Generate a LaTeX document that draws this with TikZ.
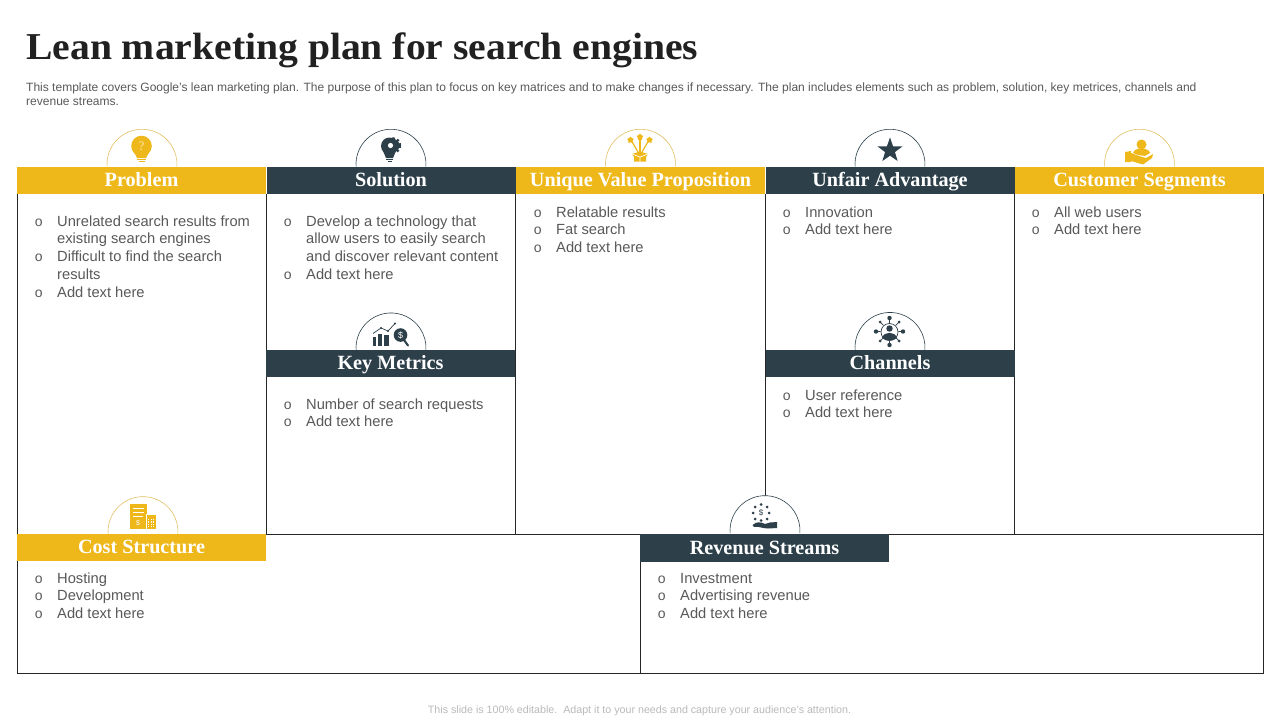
\documentclass[tikz,border=0pt]{standalone}
\usepackage{fontspec}
\setmainfont{Liberation Sans}
\newfontfamily\headfont{Liberation Serif}
\newfontfamily\titlefont{Liberation Serif}[FakeStretch=1.043]
\usetikzlibrary{shapes.geometric}
\definecolor{amber}{HTML}{EFB81A}
\definecolor{slate}{HTML}{2D404A}
\definecolor{bodygray}{HTML}{595959}
\definecolor{amberline}{HTML}{E3C063}
\newcommand{\itm}{\rule{0pt}{12pt}\makebox[0pt][r]{\fontsize{14}{14}\selectfont o\hspace{14.5pt}}}
\newcommand{\hood}[3]{\draw[#1] (#2-34.9,#3+2.4) arc[start angle=176, end angle=364, radius=35];}
\tikzset{
    head/.style={minimum width=249pt, minimum height=27pt, inner sep=0pt, text=white,
        font=\headfont\bfseries\fontsize{20.2}{20.2}\selectfont, text height=14pt, text depth=2pt},
    headamber/.style={head, fill=amber},
    headdark/.style={head, fill=slate},
    hoodamber/.style={draw=amberline, fill=white, line width=0.6pt},
    hooddark/.style={draw=slate, fill=white, line width=0.6pt},
    itemlist/.style={anchor=north west, inner sep=0pt, align=left, text=bodygray,
        font=\fontsize{14.7}{17.75}\selectfont},
    grid/.style={draw=black!85, line width=0.8pt},
}
\begin{document}
\begin{tikzpicture}[x=1pt, y=-1pt]
    \useasboundingbox (0,0) rectangle (1280,720);
    \fill[white] (0,0) rectangle (1280,720);

    \node[anchor=base west, inner sep=0pt, text=black!87, font=\titlefont\bfseries\fontsize{38}{38}\selectfont] at (26,59) (title) {Lean marketing plan for search engines};
    \node[anchor=north west, inner sep=0pt, align=left, text=bodygray, font=\fontsize{12.02}{14}\selectfont] at (26,83) (intro) {This template covers Google's lean marketing plan. The purpose of this plan to focus on key matrices and to make changes if necessary. The plan includes elements such as problem, solution, key metrices, channels and\\revenue streams.};
    \node[inner sep=0pt, text=black!27, font=\fontsize{10.68}{12}\selectfont] at (639.5,711) (footer) {This slide is 100\% editable.\ \ Adapt it to your needs and capture your audience's attention.};

    \draw[grid] (17,194) -- (17,673) -- (1263,673) -- (1263,194);
    \draw[grid] (17,534) -- (1263,534);
    \draw[grid] (640,534) -- (640,673);
    \draw[grid] (266,194) -- (266,534);
    \draw[grid] (515,194) -- (515,534);
    \draw[grid] (765,194) -- (765,500);
    \draw[grid] (1014,194) -- (1014,534);

    \hood{hoodamber}{142}{164.3}
    \hood{hooddark}{391}{164.3}
    \hood{hoodamber}{640.5}{164.3}
    \hood{hooddark}{890}{164.3}
    \hood{hoodamber}{1139.5}{164.3}
    \hood{hooddark}{391}{348}
    \hood{hooddark}{890}{347.5}
    \hood{hoodamber}{143}{531.7}
    \hood{hooddark}{765}{530.7}

    \node[headamber] at (141.5,180.5) (problem) {Problem};
    \node[headdark] at (391,180.5) (solution) {Solution};
    \node[headamber] at (640.5,180.5) (value) {Unique Value Proposition};
    \node[headdark] at (890,180.5) (unfair) {Unfair Advantage};
    \node[headamber] at (1139.5,180.5) (customer) {Customer Segments};
    \node[headdark] at (390.5,363.5) (metrics) {Key Metrics};
    \node[headdark] at (890,363.5) (channels) {Channels};
    \node[headamber] at (141.5,547.5) (cost) {Cost Structure};
    \node[headdark, minimum height=28pt] at (764.5,548) (revenue) {Revenue Streams};

    \node[itemlist] at (57,214) (problemlist) {\itm Unrelated search results from\\existing search engines\\\itm Difficult to find the search\\results\\\itm Add text here};
    \node[itemlist] at (306,214) (solutionlist) {\itm Develop a technology that\\allow users to easily search\\and discover relevant content\\\itm Add text here};
    \node[itemlist] at (556,205) (valuelist) {\itm Relatable results\\\itm Fat search\\\itm Add text here};
    \node[itemlist] at (805,205) (unfairlist) {\itm Innovation\\\itm Add text here};
    \node[itemlist] at (1054,205) (customerlist) {\itm All web users\\\itm Add text here};
    \node[itemlist] at (306,397) (metricslist) {\itm Number of search requests\\\itm Add text here};
    \node[itemlist] at (805,388) (channelslist) {\itm User reference\\\itm Add text here};
    \node[itemlist] at (57,571) (costlist) {\itm Hosting\\\itm Development\\\itm Add text here};
    \node[itemlist] at (680,571) (revenuelist) {\itm Investment\\\itm Advertising revenue\\\itm Add text here};

    % problem bulb
    \fill[amber] (141.5,146) circle (10.3);
    \fill[amber] (134,152) -- (149,152) -- (146,158) -- (137,158) -- cycle;
    \fill[amber] (137,158.6) rectangle (146,160.2);
    \fill[amber] (138.5,160.8) rectangle (144.5,162);
    \node[inner sep=0pt, text=amber!35, font=\headfont\fontsize{13}{13}\selectfont] at (141.5,146) (bulbmark) {?};

    % solution bulb and gear
    \fill[slate] (389.5,146) circle (8.5);
    \fill[slate] (383,151) -- (396,151) -- (393,158) -- (386,158) -- cycle;
    \fill[slate] (386,158.6) rectangle (393,160.2);
    \fill[slate] (387.5,160.8) rectangle (391.5,162);
    \fill[slate] (393,145.5) circle (6.5);
    \draw[slate, line width=2.4pt, dash pattern=on 2.4pt off 2.2pt] (393,145.5) circle (7);
    \fill[white] (390.5,145.5) circle (2.6);

    % value box
    \fill[amber] (632,154) -- (640,151.5) -- (648,154) -- (646,157) -- (646,161.5) -- (634,161.5) -- (634,157) -- cycle;
    \draw[white, line width=0.7pt] (632,154) -- (640,157) -- (648,154) (640,157) -- (640,161.5);
    \draw[amber, line width=1.2pt] (640,152) -- (640,138);
    \draw[amber, line width=1.2pt] (638,152) -- (631,140);
    \draw[amber, line width=1.2pt] (642,152) -- (649,140);
    \node[star, star points=5, fill=amber, inner sep=0pt, minimum size=7pt] at (640,137) (valuestara) {};
    \node[star, star points=5, fill=amber, inner sep=0pt, minimum size=7pt] at (630.5,140) (valuestarb) {};
    \node[star, star points=5, fill=amber, inner sep=0pt, minimum size=7pt] at (649.5,140) (valuestarc) {};

    % unfair star
    \node[star, star points=5, star point ratio=2.5, fill=slate, inner sep=0pt, minimum size=26pt] at (890,150.5) (unfairstar) {};

    % customer hand
    \fill[amber] (1141.5,144.5) circle (5);
    \fill[amber] (1133,153) .. controls (1134,147) and (1149,147) .. (1150,153) -- (1145,156) -- (1138,155) -- cycle;
    \fill[amber] (1125,152) -- (1131,151) -- (1131,162) -- (1125,162) -- cycle;
    \fill[amber] (1131,153) -- (1139,156) -- (1146,158) -- (1153,154) -- (1152,158) -- (1143,164.5) -- (1131,161) -- cycle;

    % metrics chart
    \fill[slate] (373,337) rectangle (376,345.5);
    \fill[slate] (378,334) rectangle (381.5,345.5);
    \fill[slate] (384,335) rectangle (389,345.5);
    \draw[slate, line width=0.7pt] (373,333.5) -- (381,328) -- (388,331) -- (395,323.5);
    \fill[slate] (381,328) circle (1.2) (388,331) circle (1.2) (395,323.5) circle (1.2);
    \draw[slate, line width=2pt, line cap=round] (404,340) -- (408,345.5);
    \fill[slate] (400.5,335) circle (6.8);
    \node[inner sep=0pt, text=white, font=\fontsize{9}{9}\selectfont] at (400.5,335) (metricsmark) {\$};

    % channels network
    \draw[slate, line width=0.7pt] (889.5,318) -- (889.5,345) (876,331.5) -- (903,331.5) (880,322) -- (899,341) (899,322) -- (880,341);
    \fill[white] (889.5,332) circle (9);
    \draw[slate, line width=0.7pt] (889.5,332) circle (8.5);
    \fill[slate] (889.5,328.5) circle (3.2);
    \fill[slate] (882,338) .. controls (884,331) and (895,331) .. (897,338) .. controls (893,341.5) and (886,341.5) .. (882,338) -- cycle;
    \fill[slate] (889.5,318) circle (2.2) (889.5,345) circle (2.2) (876,331.5) circle (2.2) (903,331.5) circle (2.2);
    \fill[slate] (880,322) circle (1.5) (899,322) circle (1.5) (880,341) circle (1.5) (899,341) circle (1.5);

    % cost sheet and calculator
    \fill[amber] (130,504) rectangle (147,528.5);
    \draw[white, line width=0.7pt] (133,508) -- (144,508) (133,512) -- (144,512) (133,516) -- (143,516);
    \node[inner sep=0pt, text=white, font=\fontsize{7}{7}\selectfont] at (138,523) (costmark) {\$};
    \fill[white] (145.5,514) rectangle (156,529);
    \fill[amber] (146.5,515) rectangle (155.5,528.5);
    \draw[white, line width=1pt, dash pattern=on 1.2pt off 1.2pt] (148.5,519) -- (148.5,528) (151,519) -- (151,528) (153.5,519) -- (153.5,528);

    % revenue dots and hand
    \node[inner sep=0pt, text=slate, font=\fontsize{8}{8}\selectfont] at (761,513) (revenuemark) {\$};
    \fill[slate] (761,504.5) circle (1.5) (767,507) circle (1.5) (769,513) circle (1.5) (767,519) circle (1.5) (761,520.5) circle (1.5) (755,519) circle (1.5) (753,513) circle (1.5) (755,507) circle (1.5);
    \fill[slate] (752.5,525) .. controls (757,521) and (761,522) .. (765,524) -- (770,522.5) -- (777,522) -- (777,528) -- (768,528.5) .. controls (763,528.5) and (758,526) .. (754,527) -- cycle;
\end{tikzpicture}
\end{document}
